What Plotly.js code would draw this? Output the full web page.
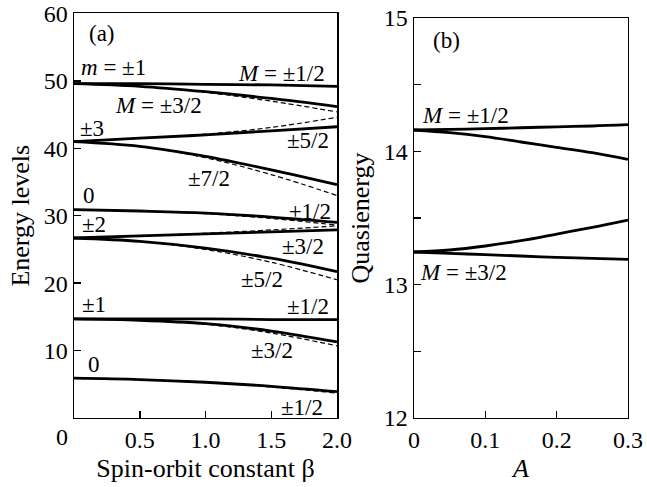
<!DOCTYPE html>
<html>
<head>
<meta charset="utf-8">
<script src="https://cdn.plot.ly/plotly-3.0.1.min.js"></script>
<style>html,body{margin:0;padding:0;background:#fff;}#chart{width:647px;height:487px;}</style>
</head>
<body>
<div id="chart"></div>
<script>
// ---------- Panel (a): energy levels vs spin-orbit constant beta ----------
var beta = [0, 0.5, 1.0, 1.5, 2.0];
var m1_M12      = [49.6, 49.6, 49.5, 49.4, 49.2];
var m1_M32      = [49.6, 49.2, 48.4, 47.4, 46.2];
var m1_M32_dash = [49.6, 49.2, 48.3, 47.0, 45.4];
var m3_M52      = [41.0, 41.5, 42.0, 42.6, 43.2];
var m3_M52_dash = [41.0, 41.5, 42.1, 43.1, 44.6];
var m3_M72      = [41.0, 40.3, 38.8, 36.8, 34.6];
var m3_M72_dash = [41.0, 40.3, 38.6, 36.1, 33.0];
var m0b_M12      = [30.9, 30.7, 30.4, 29.8, 29.0];
var m0b_M12_dash = [30.9, 30.7, 30.3, 29.6, 28.6];
var m2_M32      = [26.7, 27.0, 27.3, 27.6, 27.9];
var m2_M32_dash = [26.7, 27.0, 27.4, 27.9, 28.5];
var m2_M52      = [26.7, 26.2, 25.2, 23.7, 21.7];
var m2_M52_dash = [26.7, 26.2, 25.0, 23.1, 20.5];
var m1b_M12      = [14.7, 14.7, 14.7, 14.6, 14.6];
var m1b_M32      = [14.7, 14.5, 14.0, 12.9, 11.3];
var m1b_M32_dash = [14.7, 14.5, 13.9, 12.6, 10.7];
var m0_M12      = [5.9, 5.7, 5.3, 4.7, 3.9];
var m0_M12_dash = [5.9, 5.7, 5.3, 4.6, 3.7];

var aXTicks = [0, 0.5, 1.0, 1.5, 2.0];
var aXTickText = ['', '0.5', '1.0', '1.5', '2.0'];
var aYTicks = [10, 20, 30, 40, 50, 60];
var aYTickText = ['10', '20', '30', '40', '50', '60'];

// ---------- Panel (b): quasienergy vs A ----------
var A = [0, 0.05, 0.1, 0.15, 0.2, 0.25, 0.3];
var b_M12_up = [14.16, 14.165, 14.17, 14.177, 14.184, 14.19, 14.20];
var b_M12_dn = [14.16, 14.14, 14.11, 14.07, 14.03, 13.99, 13.94];
var b_M32_up = [13.245, 13.26, 13.29, 13.33, 13.38, 13.43, 13.485];
var b_M32_dn = [13.245, 13.235, 13.225, 13.215, 13.205, 13.197, 13.19];

var bXTicks = [0, 0.1, 0.2, 0.3];
var bXTickText = ['0', '0.1', '0.2', '0.3'];
var bYTicks = [12, 12.5, 13, 13.5, 14, 14.5, 15];
var bYTickText = ['12', '', '13', '', '14', '', '15'];

var FONT = 'Liberation Serif';
var solid = {color: '#000', width: 2.8, shape: 'spline'};
var dashed = {color: '#000', width: 1.2, dash: '5px,3px', shape: 'spline'};

function tr(x, y, line, xa, ya) {
  return {x: x, y: y, mode: 'lines', line: line, xaxis: xa, yaxis: ya, hoverinfo: 'skip', showlegend: false};
}

var traces = [
  tr(beta, m1_M32_dash, dashed, 'x', 'y'),
  tr(beta, m3_M52_dash, dashed, 'x', 'y'),
  tr(beta, m3_M72_dash, dashed, 'x', 'y'),
  tr(beta, m0b_M12_dash, dashed, 'x', 'y'),
  tr(beta, m2_M32_dash, dashed, 'x', 'y'),
  tr(beta, m2_M52_dash, dashed, 'x', 'y'),
  tr(beta, m1b_M32_dash, dashed, 'x', 'y'),
  tr(beta, m0_M12_dash, dashed, 'x', 'y'),
  tr(beta, m1_M12, solid, 'x', 'y'),
  tr(beta, m1_M32, solid, 'x', 'y'),
  tr(beta, m3_M52, solid, 'x', 'y'),
  tr(beta, m3_M72, solid, 'x', 'y'),
  tr(beta, m0b_M12, solid, 'x', 'y'),
  tr(beta, m2_M32, solid, 'x', 'y'),
  tr(beta, m2_M52, solid, 'x', 'y'),
  tr(beta, m1b_M12, solid, 'x', 'y'),
  tr(beta, m1b_M32, solid, 'x', 'y'),
  tr(beta, m0_M12, solid, 'x', 'y'),
  tr(A, b_M12_up, solid, 'x2', 'y2'),
  tr(A, b_M12_dn, solid, 'x2', 'y2'),
  tr(A, b_M32_up, solid, 'x2', 'y2'),
  tr(A, b_M32_dn, solid, 'x2', 'y2')
];

var axisBase = {
  showline: true, linecolor: '#000', linewidth: 1.5, mirror: true,
  ticks: 'inside', ticklen: 7, tickwidth: 1.5, tickcolor: '#000',
  showgrid: false, zeroline: false, automargin: false,
  tickfont: {family: FONT, size: 24, color: '#000'}
};
function ax(extra) { return Object.assign({}, axisBase, extra); }

function ann(x, y, text, xref, yref) {
  return {x: x, y: y, xref: xref, yref: yref, text: text, showarrow: false,
          font: {family: FONT, size: 23, color: '#000'}, xanchor: 'center', yanchor: 'middle'};
}

var annotations = [
  ann(0.213, 57.0, '(a)', 'x', 'y'),
  ann(0.30, 52.0, '<i>m</i> = ±1', 'x', 'y'),
  ann(1.574, 51.1, '<i>M</i> = ±1/2', 'x', 'y'),
  ann(0.646, 46.3, '<i>M</i> = ±3/2', 'x', 'y'),
  ann(0.137, 42.9, '±3', 'x', 'y'),
  ann(1.78, 41.1, '±5/2', 'x', 'y'),
  ann(1.027, 35.5, '±7/2', 'x', 'y'),
  ann(0.114, 33.0, '0', 'x', 'y'),
  ann(1.795, 30.7, '±1/2', 'x', 'y'),
  ann(0.152, 28.7, '±2', 'x', 'y'),
  ann(1.741, 25.5, '±3/2', 'x', 'y'),
  ann(1.43, 20.5, '±5/2', 'x', 'y'),
  ann(0.152, 16.9, '±1', 'x', 'y'),
  ann(1.78, 16.5, '±1/2', 'x', 'y'),
  ann(1.506, 10.0, '±3/2', 'x', 'y'),
  ann(0.152, 7.9, '0', 'x', 'y'),
  ann(1.734, 1.5, '±1/2', 'x', 'y'),
  ann(0.0958, 0.1027, '0', 'paper', 'paper'),
  ann(0.045, 14.83, '(b)', 'x2', 'y2'),
  ann(0.0715, 14.27, '<i>M</i> = ±1/2', 'x2', 'y2'),
  ann(0.070, 13.09, '<i>M</i> = ±3/2', 'x2', 'y2')
];
annotations[17].font.size = 24;

var layout = {
  width: 647, height: 487,
  margin: {l: 0, r: 0, t: 0, b: 0},
  paper_bgcolor: '#fff', plot_bgcolor: '#fff',
  showlegend: false,
  font: {family: FONT, color: '#000'},
  xaxis: ax({domain: [0.1144, 0.5209], range: [0, 2], tickvals: aXTicks, ticktext: aXTickText,
             anchor: 'y',
             title: {text: 'Spin-orbit constant β', font: {family: FONT, size: 26, color: '#000'}, standoff: 6}}),
  yaxis: ax({domain: [0.1417, 0.9723], range: [0, 60], tickvals: aYTicks, ticktext: aYTickText,
             anchor: 'x',
             title: {text: 'Energy levels', font: {family: FONT, size: 26, color: '#000'}, standoff: 6}}),
  xaxis2: ax({domain: [0.6399, 0.9706], range: [0, 0.3], tickvals: bXTicks, ticktext: bXTickText,
              anchor: 'y2',
              title: {text: '<i>A</i>', font: {family: FONT, size: 26, color: '#000'}, standoff: 6}}),
  yaxis2: ax({domain: [0.1417, 0.963], range: [12, 15], tickvals: bYTicks, ticktext: bYTickText,
              anchor: 'x2',
              title: {text: 'Quasienergy', font: {family: FONT, size: 26, color: '#000'}, standoff: 6}}),
  annotations: annotations
};

Plotly.newPlot('chart', traces, layout, {staticPlot: true, displayModeBar: false});
</script>
</body>
</html>
